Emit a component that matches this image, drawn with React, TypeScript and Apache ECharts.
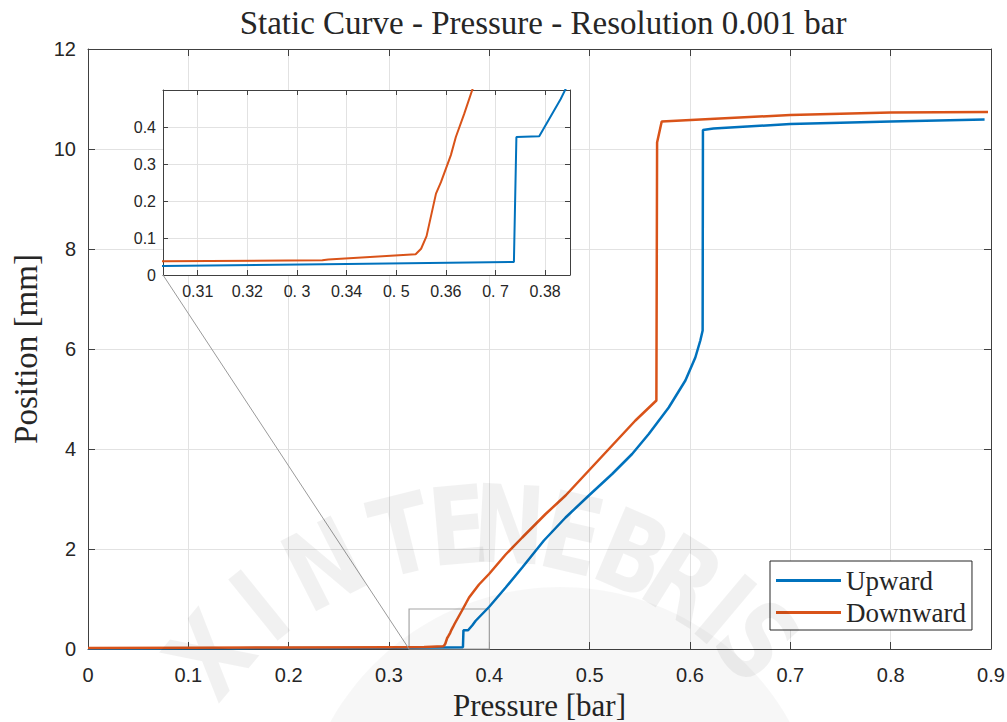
import React, { useEffect, useRef } from "react";
import * as echarts from "echarts";

// Upward curve (Pressure [bar], Position [mm])
const upward: [number, number][] = [
  [0, 0.01], [0.05, 0.012], [0.1, 0.015], [0.15, 0.017], [0.2, 0.019], [0.25, 0.021],
  [0.303, 0.024], [0.34, 0.03], [0.3737, 0.035], [0.3742, 0.373], [0.3788, 0.375],
  [0.3831, 0.475], [0.3864, 0.565], [0.3997, 0.84], [0.4163, 1.23], [0.4328, 1.63],
  [0.4544, 2.17], [0.476, 2.63], [0.4992, 3.07], [0.5224, 3.5], [0.5423, 3.9],
  [0.5589, 4.3], [0.5788, 4.83], [0.5954, 5.37], [0.6053, 5.83], [0.6103, 6.17],
  [0.6126, 6.37], [0.6129, 10.38], [0.6234, 10.41], [0.7, 10.5], [0.8, 10.55],
  [0.8936, 10.59],
];

// Downward curve
const downward: [number, number][] = [
  [0, 0.02], [0.1, 0.025], [0.2, 0.03], [0.303, 0.037], [0.3351, 0.04], [0.3363, 0.042],
  [0.3539, 0.056], [0.355, 0.071], [0.3561, 0.105], [0.358, 0.22], [0.359, 0.251],
  [0.361, 0.324], [0.362, 0.373], [0.3637, 0.436], [0.3653, 0.5], [0.3725, 0.76],
  [0.3798, 1.03], [0.3897, 1.29], [0.3997, 1.5], [0.4163, 1.89], [0.4328, 2.23],
  [0.4561, 2.7], [0.476, 3.07], [0.4992, 3.57], [0.5224, 4.07], [0.5456, 4.57],
  [0.5665, 4.97], [0.5672, 10.13], [0.5718, 10.55], [0.62, 10.6], [0.7, 10.68],
  [0.8, 10.73], [0.897, 10.74],
];

const seriesNames = ["Upward", "Downward"];
const seriesColors = ["#0072BD", "#D95319"];

const mainXRange = [0, 0.9];
const mainYRange = [0, 12];
const insetXRange = [0.303, 0.385];
const insetYRange = [0, 0.5];
const insetXTicks = [0.31, 0.32, 0.33, 0.34, 0.35, 0.36, 0.37, 0.38];
const insetXTickLabels = ["0.31", "0.32", "0. 3", "0.34", "0. 5", "0.36", "0. 7", "0.38"];
const insetYTicks = [0, 0.1, 0.2, 0.3, 0.4];
const zoomBoxCorners: [number, number][] = [[0.32, 0], [0.4, 0.8]];

const watermarkLetters = ["X", "I", "N", "T", "E", "N", "E", "B", "R", "I", "S"];
const watermarkAngles = [-50, -39, -27, -14, -5, 3, 13, 23, 32, 40, 47];

const AXIS_COLOR = "#404040";
const TEXT_COLOR = "#262626";
const GRID_COLOR = "#e2e2e2";
const SERIF = "'Liberation Serif', 'Times New Roman', serif";
const SANS = "'Liberation Sans', Arial, sans-serif";

export default function App() {
  const ref = useRef<HTMLDivElement>(null);

  useEffect(() => {
    if (!ref.current) return;
    const chart = echarts.init(ref.current, null, { renderer: "svg" });

    const mainAxisCommon = {
      type: "value" as const,
      axisLine: { show: true, onZero: false, lineStyle: { color: AXIS_COLOR, width: 1 } },
      axisTick: { show: true, inside: true, length: 7, lineStyle: { color: AXIS_COLOR } },
    };

    const insetAxisCommon = {
      type: "value" as const,
      z: 4,
      axisLine: { show: true, onZero: false, lineStyle: { color: AXIS_COLOR, width: 1 } },
      axisTick: { show: true, inside: true, length: 5, lineStyle: { color: AXIS_COLOR } },
    };

    const insetXTickLabelMap: Record<string, string> = {};
    insetXTicks.forEach((v, i) => (insetXTickLabelMap[v.toFixed(2)] = insetXTickLabels[i]));

    const wmCenter = [490, 890];
    const wmRadius = 365;
    const watermark: any[] = [
      {
        type: "circle",
        z: 50,
        silent: true,
        shape: { cx: 560, cy: 850, r: 263 },
        style: { fill: "rgba(0,0,0,0.03)" },
      },
    ];
    watermarkLetters.forEach((ch, i) => {
      const a = (watermarkAngles[i] * Math.PI) / 180;
      watermark.push({
        type: "text",
        x: wmCenter[0] + wmRadius * Math.sin(a),
        y: wmCenter[1] - wmRadius * Math.cos(a),
        rotation: -a,
        scaleX: 0.8,
        z: 50,
        silent: true,
        style: {
          text: ch,
          fill: "rgba(0,0,0,0.055)",
          font: "bold 108px 'DejaVu Sans', sans-serif",
          align: "center",
          verticalAlign: "middle",
        },
      });
    });

    const option: any = {
      animation: false,
      backgroundColor: "#ffffff",
      title: {
        text: "Static Curve - Pressure - Resolution 0.001 bar",
        left: 538,
        textAlign: "center",
        top: 1,
        textStyle: { fontFamily: SERIF, fontSize: 33, fontWeight: "normal", color: TEXT_COLOR },
      },
      legend: {
        data: seriesNames,
        orient: "vertical",
        left: 770,
        top: 561,
        icon: "rect",
        itemWidth: 65,
        itemHeight: 3,
        itemGap: 3,
        padding: [5, 6, 3, 6],
        backgroundColor: "#ffffff",
        borderColor: "#262626",
        borderWidth: 1,
        borderRadius: 0,
        textStyle: { fontFamily: SERIF, fontSize: 27, color: TEXT_COLOR, lineHeight: 29 },
      },
      grid: [
        { left: 88, right: 16, top: 49, bottom: 73, outerBoundsMode: "none", containLabel: false },
        {
          left: 163, top: 90, width: 407, height: 185, z: 3,
          outerBoundsMode: "none", containLabel: false,
          show: true, backgroundColor: "#ffffff", borderWidth: 0,
        },
      ],
      xAxis: [
        {
          ...mainAxisCommon,
          gridIndex: 0,
          min: mainXRange[0], max: mainXRange[1], interval: 0.1,
          name: "Pressure [bar]",
          nameLocation: "middle",
          nameGap: 33,
          nameTextStyle: { fontFamily: SERIF, fontSize: 31, color: TEXT_COLOR, lineHeight: 31 },
          axisLabel: { fontFamily: SANS, fontSize: 20, color: TEXT_COLOR, margin: 16 },
          splitLine: { show: true, lineStyle: { color: GRID_COLOR, width: 1 } },
        },
        {
          ...mainAxisCommon,
          gridIndex: 0, position: "top",
          min: mainXRange[0], max: mainXRange[1], interval: 0.1,
          axisLabel: { show: false }, splitLine: { show: false },
        },
        {
          ...insetAxisCommon,
          gridIndex: 1,
          min: insetXRange[0], max: insetXRange[1],
          axisTick: { ...insetAxisCommon.axisTick, customValues: insetXTicks },
          axisLabel: {
            customValues: insetXTicks,
            fontFamily: SANS, fontSize: 16, color: TEXT_COLOR, margin: 8,
            formatter: (v: number) => insetXTickLabelMap[v.toFixed(2)] ?? String(v),
          },
          splitLine: { show: true, lineStyle: { color: GRID_COLOR, width: 1 } },
        },
        {
          ...insetAxisCommon,
          gridIndex: 1, position: "top",
          min: insetXRange[0], max: insetXRange[1],
          axisTick: { ...insetAxisCommon.axisTick, customValues: insetXTicks },
          axisLabel: { show: false }, splitLine: { show: false },
        },
      ],
      yAxis: [
        {
          ...mainAxisCommon,
          gridIndex: 0,
          min: mainYRange[0], max: mainYRange[1], interval: 2,
          name: "Position [mm]",
          nameLocation: "middle",
          nameGap: 42,
          nameTextStyle: { fontFamily: SERIF, fontSize: 33, color: TEXT_COLOR },
          axisLabel: { fontFamily: SANS, fontSize: 20, color: TEXT_COLOR, margin: 12 },
          splitLine: { show: true, lineStyle: { color: GRID_COLOR, width: 1 } },
        },
        {
          ...mainAxisCommon,
          gridIndex: 0, position: "right",
          min: mainYRange[0], max: mainYRange[1], interval: 2,
          axisLabel: { show: false }, splitLine: { show: false },
        },
        {
          ...insetAxisCommon,
          gridIndex: 1,
          min: insetYRange[0], max: insetYRange[1],
          axisTick: { ...insetAxisCommon.axisTick, customValues: insetYTicks },
          axisLabel: {
            customValues: insetYTicks,
            fontFamily: SANS, fontSize: 16, color: TEXT_COLOR, margin: 7,
          },
          splitLine: { show: true, lineStyle: { color: GRID_COLOR, width: 1 } },
        },
        {
          ...insetAxisCommon,
          gridIndex: 1, position: "right",
          min: insetYRange[0], max: insetYRange[1],
          axisTick: { ...insetAxisCommon.axisTick, customValues: insetYTicks },
          axisLabel: { show: false }, splitLine: { show: false },
        },
      ],
      series: [
        {
          name: seriesNames[0], type: "line", data: upward,
          xAxisIndex: 0, yAxisIndex: 0, symbol: "none", showSymbol: false,
          color: seriesColors[0], lineStyle: { color: seriesColors[0], width: 2.5 },
          z: 2,
          markArea: {
            silent: true,
            itemStyle: { color: "rgba(0,0,0,0)", borderColor: "#a6a6a6", borderWidth: 1.2 },
            data: [[{ coord: zoomBoxCorners[0] }, { coord: zoomBoxCorners[1] }]],
          },
        },
        {
          name: seriesNames[1], type: "line", data: downward,
          xAxisIndex: 0, yAxisIndex: 0, symbol: "none", showSymbol: false,
          color: seriesColors[1], lineStyle: { color: seriesColors[1], width: 2.5 },
          z: 2,
        },
        {
          name: seriesNames[0], type: "line", data: upward,
          xAxisIndex: 2, yAxisIndex: 2, symbol: "none", showSymbol: false, clip: true,
          color: seriesColors[0], lineStyle: { color: seriesColors[0], width: 2 },
          z: 5,
        },
        {
          name: seriesNames[1], type: "line", data: downward,
          xAxisIndex: 2, yAxisIndex: 2, symbol: "none", showSymbol: false, clip: true,
          color: seriesColors[1], lineStyle: { color: seriesColors[1], width: 2 },
          z: 5,
        },
      ],
      graphic: watermark,
    };

    chart.setOption(option);

    const p1 = chart.convertToPixel({ seriesIndex: 2 }, [insetXRange[0], insetYRange[0]]) as number[];
    const p2 = chart.convertToPixel({ seriesIndex: 0 }, zoomBoxCorners[0]) as number[];
    chart.setOption({
      graphic: [
        ...watermark,
        {
          type: "line",
          z: 6,
          silent: true,
          shape: { x1: p1[0], y1: p1[1], x2: p2[0], y2: p2[1] },
          style: { stroke: "#9a9a9a", lineWidth: 1 },
        },
      ],
    });

    return () => chart.dispose();
  }, []);

  return (
    <div
      ref={ref}
      style={{ position: "fixed", left: 0, top: 0, width: 1007, height: 722 }}
    />
  );
}
